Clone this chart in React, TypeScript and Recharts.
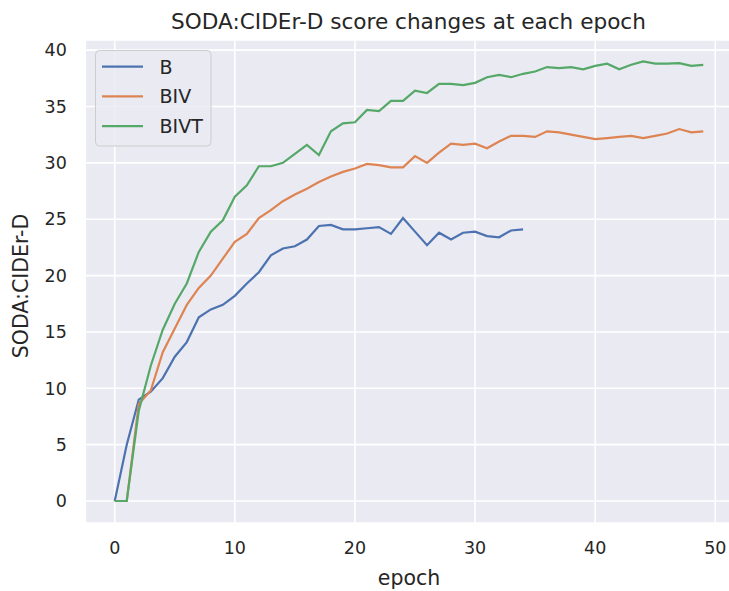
import React from "react";
import { CartesianGrid, Line, LineChart, XAxis, YAxis } from "recharts";

const epochs = Array.from({ length: 50 }, (_, i) => i);

const scoreB = [
	0, 5.0, 9.0, 9.7, 10.9, 12.8, 14.1, 16.3, 17.0, 17.4, 18.2, 19.3, 20.3, 21.8, 22.4, 22.6, 23.2,
	24.4, 24.5, 24.1, 24.1, 24.2, 24.3, 23.7, 25.1, 23.9, 22.7, 23.8, 23.2, 23.8, 23.9, 23.5, 23.4,
	24.0, 24.1,
];
const scoreBIV = [
	0, 0, 8.6, 9.8, 13.2, 15.3, 17.4, 18.9, 20.0, 21.5, 23.0, 23.7, 25.1, 25.8, 26.6, 27.2, 27.7,
	28.3, 28.8, 29.2, 29.5, 29.9, 29.8, 29.6, 29.6, 30.6, 30.0, 30.9, 31.7, 31.6, 31.7, 31.3, 31.9,
	32.4, 32.4, 32.3, 32.8, 32.7, 32.5, 32.3, 32.1, 32.2, 32.3, 32.4, 32.2, 32.4, 32.6, 33.0, 32.7,
	32.8,
];
const scoreBIVT = [
	0, 0, 8.0, 12.0, 15.2, 17.5, 19.3, 22.1, 23.9, 24.9, 27.0, 28.0, 29.7, 29.7, 30.0, 30.8, 31.6,
	30.7, 32.8, 33.5, 33.6, 34.7, 34.6, 35.5, 35.5, 36.4, 36.2, 37.0, 37.0, 36.9, 37.1, 37.6, 37.8,
	37.6, 37.9, 38.1, 38.5, 38.4, 38.5, 38.3, 38.6, 38.8, 38.3, 38.7, 39.0, 38.8, 38.8, 38.85, 38.6,
	38.7,
];

const xTicks = [0, 10, 20, 30, 40, 50];
const yTicks = [0, 5, 10, 15, 20, 25, 30, 35, 40];

const series = [
	{ key: "B", color: "#4C72B0" },
	{ key: "BIV", color: "#DD8452" },
	{ key: "BIVT", color: "#55A868" },
];

const data = epochs.map((epoch) => ({
	epoch,
	B: scoreB[epoch],
	BIV: scoreBIV[epoch],
	BIVT: scoreBIVT[epoch],
}));

const font = "'DejaVu Sans', sans-serif";
const ink = "#262626";

export default function App() {
	const tick = { fill: ink, fontSize: 17.5, fontFamily: font };
	return (
		<div
			style={{
				position: "absolute",
				left: 0,
				top: 0,
				width: 729,
				height: 591,
				overflow: "hidden",
				background: "#fff",
			}}
		>
			<LineChart
				width={745}
				height={591}
				data={data}
				margin={{ top: 40, right: 12.3, bottom: 0, left: 0 }}
			>
				<CartesianGrid fill="#EAEAF2" fillOpacity={1} stroke="#fff" strokeWidth={1.6} />
				<XAxis
					dataKey="epoch"
					type="number"
					domain={[-2.45, 51.45]}
					ticks={xTicks}
					interval={0}
					allowDataOverflow
					axisLine={false}
					tickLine={false}
					tickSize={0}
					tickMargin={18.5}
					height={68}
					tick={tick}
				/>
				<YAxis
					type="number"
					domain={[-1.95, 40.9]}
					ticks={yTicks}
					interval={0}
					allowDataOverflow
					axisLine={false}
					tickLine={false}
					tickSize={0}
					tickMargin={18.5}
					width={85.3}
					tick={tick}
				/>
				{series.map((s) => (
					<Line
						key={s.key}
						type="linear"
						dataKey={s.key}
						stroke={s.color}
						strokeWidth={2.2}
						dot={false}
						isAnimationActive={false}
					/>
				))}
			</LineChart>
			<svg
				width={729}
				height={591}
				style={{ position: "absolute", left: 0, top: 0, pointerEvents: "none" }}
				fontFamily={font}
				fill={ink}
			>
				<text x={408.5} y={28.5} textAnchor="middle" fontSize={21.6}>
					SODA:CIDEr-D score changes at each epoch
				</text>
				<text
					x={0}
					y={0}
					transform="translate(21,286) rotate(-90)"
					textAnchor="middle"
					dominantBaseline="central"
					fontSize={20.5}
				>
					SODA:CIDEr-D
				</text>
				<text x={409} y={585} textAnchor="middle" fontSize={20.5}>
					epoch
				</text>
				<rect
					x={95.5}
					y={50.5}
					width={115.5}
					height={95.5}
					rx={4}
					fill="#EAEAF2"
					fillOpacity={0.8}
					stroke="#cccccc"
				/>
				{series.map((s, i) => {
					const y = 66.7 + i * 29.7;
					return (
						<g key={s.key}>
							<line x1={102} x2={143} y1={y} y2={y} stroke={s.color} strokeWidth={2.2} />
							<text x={159.5} y={y} dominantBaseline="central" fontSize={19}>
								{s.key}
							</text>
						</g>
					);
				})}
			</svg>
		</div>
	);
}
